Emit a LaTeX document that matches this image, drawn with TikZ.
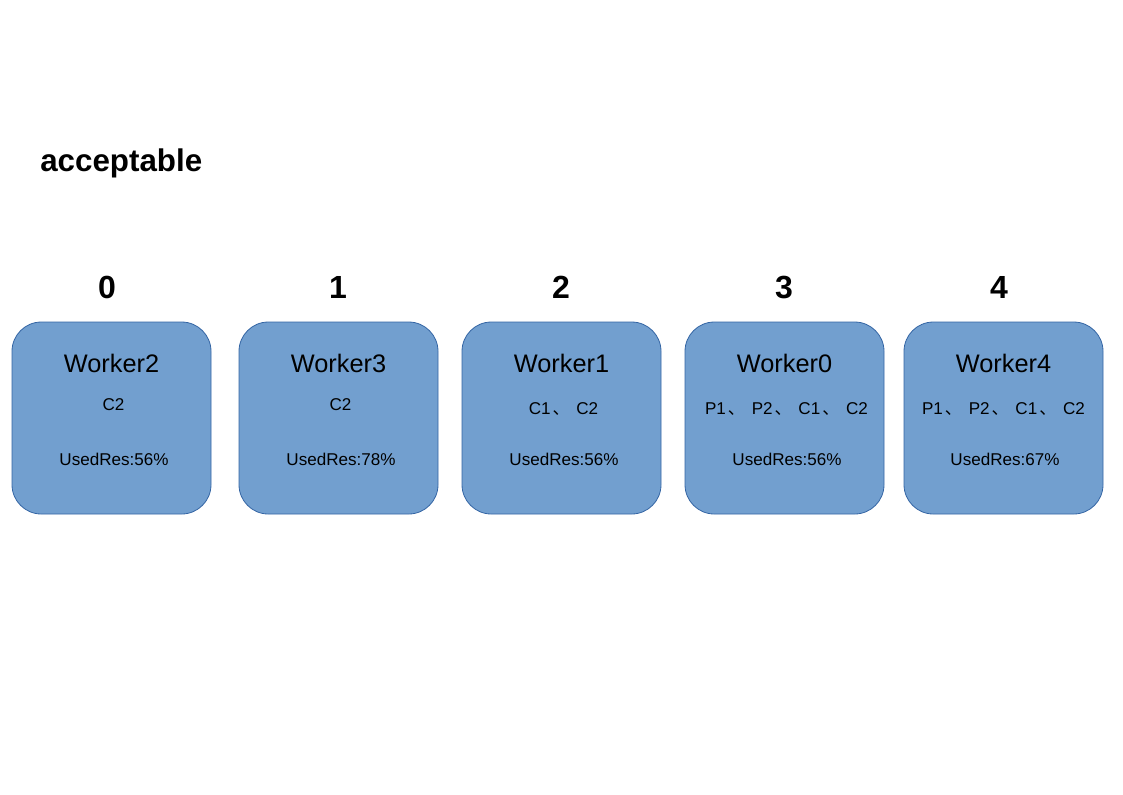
\documentclass[tikz,border=0pt]{standalone}
\usepackage{fontspec}
\setmainfont{Liberation Sans}
\newfontfamily\cjk{Noto Sans CJK SC}
\usepackage{tikz}
\usetikzlibrary{positioning}
\definecolor{workerfill}{HTML}{729FCF}
\definecolor{workerline}{HTML}{3465A4}
\newcommand{\sep}{\hspace{1.5pt}{\cjk 、}\hspace{1.5pt}}

\begin{document}
\begin{tikzpicture}[
  x=0.75pt, y=-0.75pt,
  worker/.style={rectangle, rounded corners=22pt, draw=workerline, fill=workerfill, line width=0.6pt, minimum width=149.25pt, minimum height=144pt},
  wname/.style={font=\fontsize{19}{22}\selectfont},
  wtext/.style={font=\fontsize{12.8}{15}\selectfont, inner sep=0pt},
  rank/.style={font=\fontsize{24}{28}\bfseries\selectfont}
]
\path[use as bounding box] (0,0) rectangle (1123,794);
\node[font=\fontsize{23.5}{28}\bfseries\selectfont, anchor=west, inner sep=0pt] (title) at (40,163) {acceptable};
% workers in order of rank
\node[worker] (w2) at (111.5,418) {};
\node[worker] (w3) at (338.5,418) {};
\node[worker] (w1) at (561.5,418) {};
\node[worker] (w0) at (784.5,418) {};
\node[worker] (w4) at (1003.5,418) {};
\node[rank] (r0) at (107,287) {0};
\node[rank] (r1) at (338,287) {1};
\node[rank] (r2) at (561,287) {2};
\node[rank] (r3) at (784,287) {3};
\node[rank] (r4) at (999,287) {4};
\node[wname] (n2) at (111.5,363) {Worker2};
\node[wname] (n3) at (338.5,363) {Worker3};
\node[wname] (n1) at (561.5,363) {Worker1};
\node[wname] (n0) at (784.5,363) {Worker0};
\node[wname] (n4) at (1003.5,363) {Worker4};
\node[wtext] (t2) at (113.5,405) {C2};
\node[wtext] (t3) at (340.5,405) {C2};
\node[wtext] (t1) at (563.5,409) {C1\sep{} C2};
\node[wtext] (t0) at (786.5,409) {P1\sep{} P2\sep{} C1\sep{} C2};
\node[wtext] (t4) at (1003.5,409) {P1\sep{} P2\sep{} C1\sep{} C2};
\node[wtext] (u2) at (114,459) {UsedRes:56\%};
\node[wtext] (u3) at (341,459) {UsedRes:78\%};
\node[wtext] (u1) at (564,459) {UsedRes:56\%};
\node[wtext] (u0) at (787,459) {UsedRes:56\%};
\node[wtext] (u4) at (1005,459) {UsedRes:67\%};
\end{tikzpicture}
\end{document}
